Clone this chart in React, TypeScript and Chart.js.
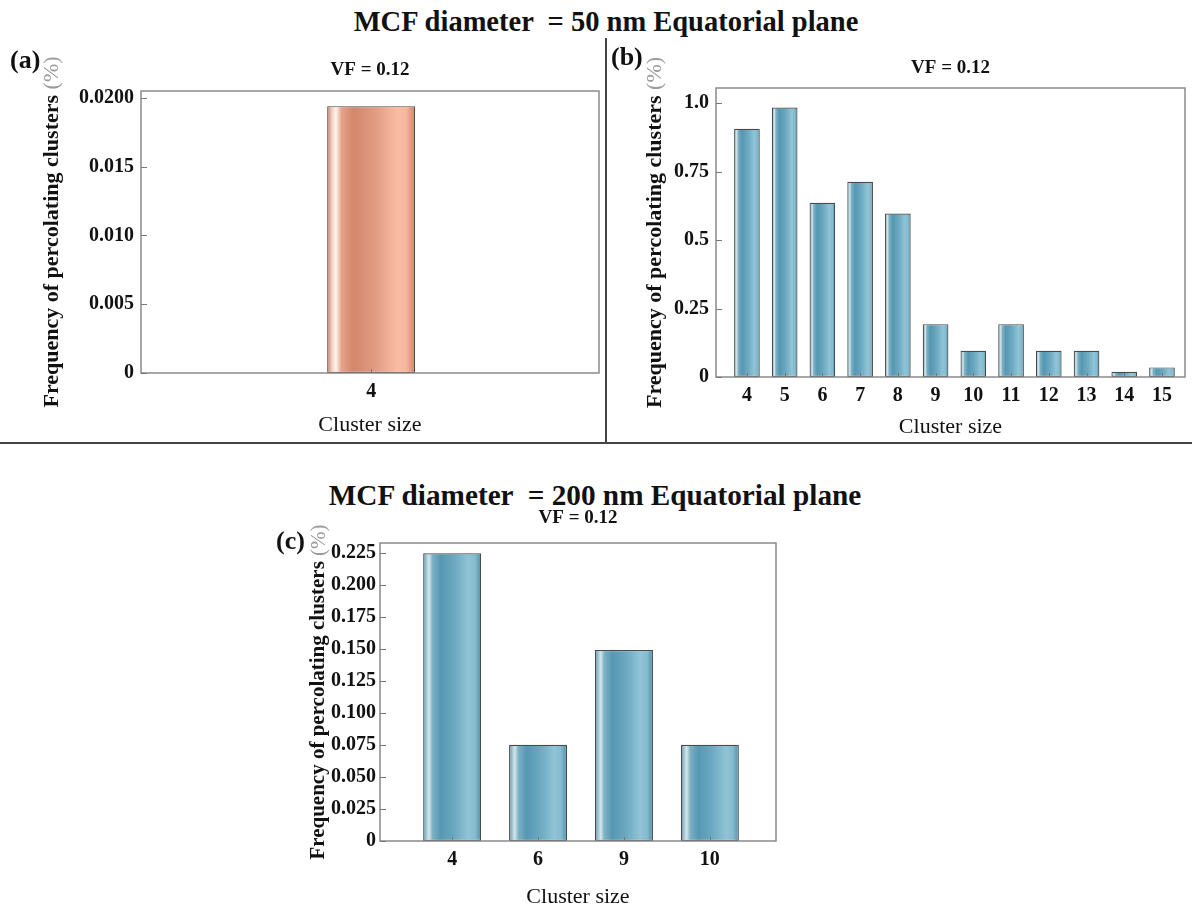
import React, { useEffect, useRef } from 'react';
import { Chart, registerables } from 'chart.js';

Chart.register(...registerables);

const FONT = "'Liberation Serif', 'Times New Roman', Times, serif";

// ---------- Panel (a): MCF 50 nm ----------
const catsA = ['4'];
const valsA = [0.0194];
const yTicksA = [0, 0.005, 0.01, 0.015, 0.02];
const yLabelsA = ['0', '0.005', '0.010', '0.015', '0.0200'];

// ---------- Panel (b): MCF 50 nm ----------
const catsB = ['4', '5', '6', '7', '8', '9', '10', '11', '12', '13', '14', '15'];
const valsB = [0.906, 0.984, 0.636, 0.713, 0.597, 0.193, 0.096, 0.193, 0.096, 0.096, 0.019, 0.035];
const yTicksB = [0, 0.25, 0.5, 0.75, 1.0];
const yLabelsB = ['0', '0.25', '0.5', '0.75', '1.0'];

// ---------- Panel (c): MCF 200 nm ----------
const catsC = ['4', '6', '9', '10'];
const valsC = [0.2245, 0.075, 0.149, 0.075];
const yTicksC = [0, 0.025, 0.05, 0.075, 0.1, 0.125, 0.15, 0.175, 0.2, 0.225];
const yLabelsC = ['0', '0.025', '0.050', '0.075', '0.100', '0.125', '0.150', '0.175', '0.200', '0.225'];

const subTitle = 'VF = 0.12';
const xTitle = 'Cluster size';
const yTitleMain = 'Frequency of percolating clusters';
const yTitleUnit = ' (%)';

const COPPER: [number, string][] = [
  [0, '#c27a64'],
  [0.05, '#f2cbbd'],
  [0.1, '#fff6f2'],
  [0.16, '#e6a48d'],
  [0.3, '#d3866c'],
  [0.55, '#e29c83'],
  [0.8, '#fbbca4'],
  [0.9, '#f7b69d'],
  [1, '#cc8267'],
];

const BLUE: [number, string][] = [
  [0, '#4a8aa4'],
  [0.05, '#9cc3d1'],
  [0.1, '#d6e6ea'],
  [0.16, '#7db2c5'],
  [0.3, '#5597b2'],
  [0.55, '#6eaac1'],
  [0.78, '#90c4d6'],
  [0.9, '#84bbcf'],
  [1, '#4c8ca6'],
];

function barFill(stops: [number, string][], pct: number, n: number) {
  return (c: any) => {
    const chart = c.chart;
    const xs = chart.scales?.x;
    if (c.type !== 'data' || !xs || !chart.chartArea) return stops[4][1];
    const p0 = xs.getPixelForValue(0);
    if (!isFinite(p0)) return stops[4][1];
    const step = n > 1 ? Math.abs(xs.getPixelForValue(1) - p0) : xs.width;
    const w = step * pct;
    const cx = xs.getPixelForValue(c.dataIndex);
    const g = chart.ctx.createLinearGradient(cx - w / 2, 0, cx + w / 2, 0);
    stops.forEach(([o, col]) => g.addColorStop(o, col));
    return g;
  };
}

const framePlugin = {
  id: 'frame',
  afterDatasetsDraw(chart: any) {
    const { ctx, chartArea: a } = chart;
    ctx.save();
    ctx.strokeStyle = '#8a8a8a';
    ctx.lineWidth = 1.5;
    ctx.strokeRect(a.left, a.top, a.right - a.left, a.bottom - a.top);
    ctx.strokeStyle = '#777';
    ctx.lineWidth = 1;
    const ys = chart.scales.y;
    ys.ticks.forEach((_: any, i: number) => {
      const y = Math.round(ys.getPixelForTick(i)) + 0.5;
      ctx.beginPath();
      ctx.moveTo(a.left, y);
      ctx.lineTo(a.left + 6, y);
      ctx.stroke();
    });
    const xs = chart.scales.x;
    xs.ticks.forEach((_: any, i: number) => {
      const x = Math.round(xs.getPixelForTick(i)) + 0.5;
      ctx.beginPath();
      ctx.moveTo(x, a.bottom);
      ctx.lineTo(x, a.bottom - 4);
      ctx.stroke();
    });
    ctx.restore();
  },
};

const yTitlePlugin = {
  id: 'ytitle2',
  afterDraw(chart: any, _args: any, opts: any) {
    const { ctx, chartArea: a } = chart;
    const cy = (a.top + a.bottom) / 2;
    ctx.save();
    ctx.translate(opts.x, cy);
    ctx.rotate(-Math.PI / 2);
    ctx.textBaseline = 'middle';
    ctx.textAlign = 'left';
    const boldFont = `bold ${opts.size}px ${FONT}`;
    const normFont = `${opts.size}px ${FONT}`;
    ctx.font = boldFont;
    const w1 = ctx.measureText(yTitleMain).width;
    ctx.font = normFont;
    const w2 = ctx.measureText(yTitleUnit).width;
    const x0 = -(w1 + w2) / 2;
    ctx.font = boldFont;
    ctx.fillStyle = '#111';
    ctx.fillText(yTitleMain, x0, 0);
    ctx.font = normFont;
    ctx.fillStyle = '#9a9a9a';
    ctx.fillText(yTitleUnit, x0 + w1, 0);
    ctx.restore();
  },
};

type Spec = {
  cats: string[];
  vals: number[];
  yTicks: number[];
  yLabels: string[];
  yMax: number;
  xMin: number;
  xMax: number;
  pct: number;
  stops: [number, string][];
  yWidth: number;
  yTickPad: number;
  padRight: number;
  tPadTop: number;
  tPadBottom: number;
  xHeight: number;
  xTitlePadBottom: number;
  yTitleX: number;
  yTitleSize: number;
};

function makeConfig(s: Spec): any {
  const data = s.vals.map((v, i) => ({ x: i, y: v }));
  return {
    type: 'bar',
    data: {
      datasets: [
        {
          data,
          backgroundColor: barFill(s.stops, s.pct, s.cats.length),
          borderColor: '#4a4a4a',
          borderWidth: 1.2,
          borderSkipped: false,
          categoryPercentage: 1,
          barPercentage: s.pct,
        },
      ],
    },
    options: {
      animation: false,
      responsive: false,
      devicePixelRatio: 1,
      layout: { padding: { left: 0, right: s.padRight, top: 0, bottom: 0 } },
      plugins: {
        legend: { display: false },
        tooltip: { enabled: false },
        title: {
          display: true,
          text: subTitle,
          fullSize: false,
          color: '#111',
          font: { family: FONT, size: 19, weight: 'bold', lineHeight: 1.2 },
          padding: { top: s.tPadTop, bottom: s.tPadBottom },
        },
        ytitle2: { x: s.yTitleX, size: s.yTitleSize },
      },
      scales: {
        x: {
          type: 'linear',
          min: s.xMin,
          max: s.xMax,
          offset: false,
          grid: { display: false, drawTicks: false, offset: false },
          border: { display: false },
          afterBuildTicks: (sc: any) => {
            sc.ticks = s.cats.map((_, i) => ({ value: i }));
          },
          afterFit: (sc: any) => {
            sc.height = s.xHeight;
          },
          ticks: {
            autoSkip: false,
            maxRotation: 0,
            padding: 7,
            color: '#111',
            font: { family: FONT, size: 20, weight: 'bold' },
            callback: (v: number) => s.cats[Math.round(v)] ?? '',
          },
          title: {
            display: true,
            text: xTitle,
            color: '#111',
            font: { family: FONT, size: 22, lineHeight: 1.2 },
            padding: { top: 0, bottom: s.xTitlePadBottom },
          },
        },
        y: {
          type: 'linear',
          min: 0,
          max: s.yMax,
          grid: { display: false, drawTicks: false },
          border: { display: false },
          afterBuildTicks: (sc: any) => {
            sc.ticks = s.yTicks.map((v) => ({ value: v }));
          },
          afterFit: (sc: any) => {
            sc.width = s.yWidth;
          },
          ticks: {
            padding: s.yTickPad,
            color: '#111',
            font: { family: FONT, size: 20, weight: 'bold' },
            callback: (_v: number, i: number) => s.yLabels[i] ?? '',
          },
        },
      },
    },
    plugins: [framePlugin, yTitlePlugin],
  };
}

const specA: Spec = {
  cats: catsA, vals: valsA, yTicks: yTicksA, yLabels: yLabelsA, yMax: 0.0205,
  xMin: -1, xMax: 0.99, pct: 0.192, stops: COPPER,
  yWidth: 141, yTickPad: 7, padRight: 3, tPadTop: 18.6, tPadBottom: 9.6, xHeight: 67, xTitlePadBottom: 1.8,
  yTitleX: 52, yTitleSize: 22,
};

const specB: Spec = {
  cats: catsB, vals: valsB, yTicks: yTicksB, yLabels: yLabelsB, yMax: 1.055,
  xMin: -0.82, xMax: 11.61, pct: 0.68, stops: BLUE,
  yWidth: 108, yTickPad: 7, padRight: 7, tPadTop: 16.6, tPadBottom: 8.6, xHeight: 63, xTitlePadBottom: 0,
  yTitleX: 47, yTitleSize: 22,
};

const specC: Spec = {
  cats: catsC, vals: valsC, yTicks: yTicksC, yLabels: yLabelsC, yMax: 0.2325,
  xMin: -0.84, xMax: 3.77, pct: 0.675, stops: BLUE,
  yWidth: 120, yTickPad: 4, padRight: 9, tPadTop: 6.6, tPadBottom: 13.6, xHeight: 71, xTitlePadBottom: 1.8,
  yTitleX: 59, yTitleSize: 21,
};

function ChartCanvas({ spec, left, top, width, height }: { spec: Spec; left: number; top: number; width: number; height: number }) {
  const ref = useRef<HTMLCanvasElement>(null);
  useEffect(() => {
    const chart = new Chart(ref.current as HTMLCanvasElement, makeConfig(spec));
    return () => chart.destroy();
  }, [spec]);
  return (
    <canvas
      ref={ref}
      width={width}
      height={height}
      style={{ position: 'absolute', left, top, width, height }}
    />
  );
}

const bigTitle: React.CSSProperties = {
  position: 'absolute',
  fontFamily: FONT,
  fontWeight: 'bold',
  fontSize: 30,
  lineHeight: '30px',
  whiteSpace: 'pre',
  color: '#111',
};

const panelLabel: React.CSSProperties = {
  position: 'absolute',
  fontFamily: FONT,
  fontWeight: 'bold',
  fontSize: 26,
  lineHeight: '26px',
  color: '#111',
};

export default function App() {
  return (
    <div
      style={{
        position: 'absolute',
        left: 0,
        top: 0,
        width: 1192,
        height: 906,
        overflow: 'hidden',
        background: '#fff',
      }}
    >
      <div style={{ ...bigTitle, left: 606, top: 6, transform: 'translateX(-50%) scaleX(0.95)' }}>
        {'MCF diameter  = 50 nm Equatorial plane'}
      </div>
      <div style={{ ...bigTitle, left: 595, top: 480, transform: 'translateX(-50%) scaleX(0.975)' }}>
        {'MCF diameter  = 200 nm Equatorial plane'}
      </div>

      <div style={{ position: 'absolute', left: 605, top: 38, width: 1.5, height: 405, background: '#444' }} />
      <div style={{ position: 'absolute', left: 0, top: 442, width: 1192, height: 1.5, background: '#444' }} />

      <ChartCanvas spec={specA} left={0} top={40} width={602} height={400} />
      <ChartCanvas spec={specB} left={608} top={40} width={584} height={400} />
      <ChartCanvas spec={specC} left={260} top={500} width={525} height={412} />

      <div style={{ ...panelLabel, left: 10, top: 47 }}>(a)</div>
      <div style={{ ...panelLabel, left: 611, top: 44 }}>(b)</div>
      <div style={{ ...panelLabel, left: 276, top: 528 }}>(c)</div>
    </div>
  );
}
